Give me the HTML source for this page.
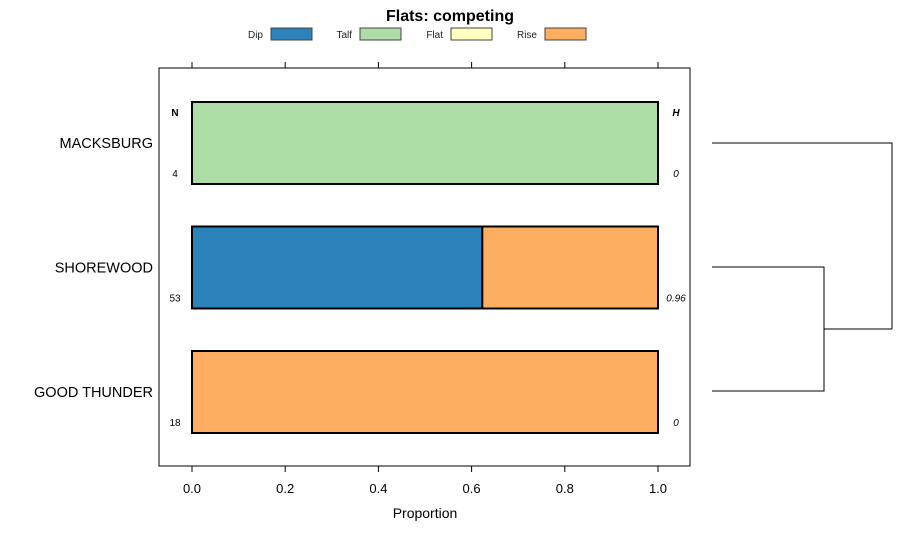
<!DOCTYPE html>
<html><head><meta charset="utf-8"><style>body{margin:0;background:#fff}svg{display:block}text{font-family:"Liberation Sans",sans-serif}</style></head>
<body>
<svg id="c" width="900" height="540">
<text x="450" y="21" text-anchor="middle" font-size="16" font-weight="bold">Flats: competing</text>
<g id="legend"></g>
<rect x="159" y="68" width="531" height="398" fill="none" stroke="#000" stroke-width="1"/>
<g id="axis"></g>
<g id="bars"></g>
<g id="dend" fill="none" stroke="#000">
<path d="M712 143H892V329M712 267H824V391H712M824 329H892"/>
</g>
<text x="425" y="518" text-anchor="middle" font-size="14">Proportion</text>
<text x="175" y="116" text-anchor="middle" font-size="10" font-weight="bold">N</text>
<text x="676" y="116" text-anchor="middle" font-size="10" font-weight="bold" font-style="italic">H</text>
</svg>
<script>
const sites=["MACKSBURG","SHOREWOOD","GOOD THUNDER"];
const seriesNames=["Dip","Talf","Flat","Rise"];
const colors=["#2C83B9","#ABDDA4","#FFFFBF","#FDAE61"];
const dip=[0,0.623,0];
const talf=[1,0,0];
const flat=[0,0,0];
const rise=[0,0.377,1];
const nVals=["4","53","18"];
const hVals=["0","0.96","0"];
const ticks=[0,0.2,0.4,0.6,0.8,1.0];
const tickLabels=["0.0","0.2","0.4","0.6","0.8","1.0"];
const NS="http://www.w3.org/2000/svg";
const xs=v=>192+v*466;
const yc=i=>143+i*124.5;
function mk(t,a,p){const e=document.createElementNS(NS,t);for(const k in a)e.setAttribute(k,a[k]);p.appendChild(e);return e;}
const lg=document.getElementById('legend');
const lbx=[271,360,451,545];
seriesNames.forEach((s,i)=>{
 const t=mk('text',{x:lbx[i]-8,y:38,'text-anchor':'end','font-size':10,fill:'#222'},lg);t.textContent=s;
 
 
 const r=mk('rect',{x:lbx[i],y:28,width:41,height:12,fill:colors[i],stroke:'#444'},lg);
 
 
});
const ax=document.getElementById('axis');
ticks.forEach((v,i)=>{
 const x=xs(v);
 mk('line',{x1:x,x2:x,y1:62,y2:68,stroke:'#000'},ax);
 mk('line',{x1:x,x2:x,y1:466,y2:472,stroke:'#000'},ax);
 const t=mk('text',{x:x,y:493,'text-anchor':'middle','font-size':13},ax);t.textContent=tickLabels[i];
 
 
});
const bg=document.getElementById('bars');
const series=[dip,talf,flat,rise];
sites.forEach((s,i)=>{
 const c=yc(i);let acc=0;
 series.forEach((arr,k)=>{
  const v=arr[i];if(v<=0)return;
  const r=mk('rect',{x:xs(acc),y:c-41,width:xs(acc+v)-xs(acc),height:82,fill:colors[k],stroke:'#000','stroke-width':2},bg);
  
  
  acc+=v;
 });
 const l=mk('text',{x:153,y:c+5,'text-anchor':'end','font-size':14.5},bg);l.textContent=s;
 
 
 const n=mk('text',{x:175,y:c+34,'text-anchor':'middle','font-size':10},bg);n.textContent=nVals[i];
 
 
 const h=mk('text',{x:676,y:c+34,'text-anchor':'middle','font-size':10,'font-style':'italic'},bg);h.textContent=hVals[i];
 
 
});
</script>
</body></html>
